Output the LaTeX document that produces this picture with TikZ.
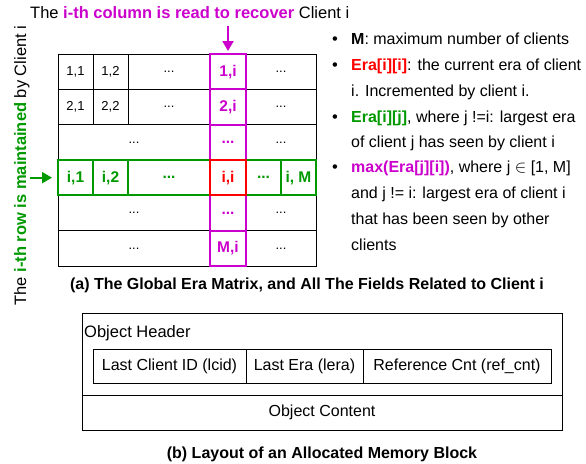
\documentclass[tikz,border=0pt]{standalone}
\usepackage{fontspec}
\setmainfont{Liberation Sans}
\usetikzlibrary{arrows.meta}
\definecolor{mag}{RGB}{204,0,204}
\definecolor{grn}{RGB}{0,153,0}
\definecolor{rd}{RGB}{255,0,0}
\begin{document}
\begin{tikzpicture}[x=1pt,y=-1pt,
  txt/.style={inner sep=0pt, font=\fontsize{16.5}{19}\selectfont},
  legend/.style={inner sep=0pt, anchor=base west, font=\fontsize{16}{19}\selectfont},
  cell/.style={draw=black, line width=0.9pt, minimum height=35.33pt, inner sep=0pt,
    font=\fontsize{13}{15}\selectfont},
  colcell/.style={draw=mag, line width=2pt, text=mag, minimum width=36pt,
    minimum height=35.33pt, inner sep=0pt, font=\fontsize{15.5}{18}\selectfont\bfseries},
  rowcell/.style={draw=grn, line width=2pt, text=grn, minimum height=35.33pt,
    inner sep=0pt, font=\fontsize{15.5}{18}\selectfont\bfseries},
  selfcell/.style={draw=rd, line width=2pt, text=rd, minimum width=36pt,
    minimum height=35.33pt, inner sep=0pt, font=\fontsize{15.5}{18}\selectfont\bfseries},
  ptr/.style={line width=2pt, -{Triangle[width=11pt,length=10pt]}},
  box/.style={draw=black, line width=0.9pt, inner sep=0pt, font=\fontsize{16}{19}\selectfont},
  caption/.style={inner sep=0pt, font=\fontsize{16}{19}\selectfont\bfseries},
]
\useasboundingbox (0,0) rectangle (586,463);

% ---- title and side label ----
\node[txt, anchor=base west] (title) at (30,18)
  {The \textcolor{mag}{\bfseries i-th column is read to recover} Client i};
\node[txt, rotate=90, anchor=base] (side) at (26,165.5)
  {The \textcolor{grn}{\bfseries i-th row is maintained} by Client i};

% ---- era matrix: plain cells ----
\node[cell, minimum width=35pt] (a11) at (75.5,71.67) {1,1};
\node[cell, minimum width=35pt] (a12) at (110.5,71.67) {1,2};
\node[cell, minimum width=82pt] (a1d) at (169,71.67) {...};
\node[cell, minimum width=70pt] (a1e) at (281,71.67) {...};

\node[cell, minimum width=35pt] (a21) at (75.5,107) {2,1};
\node[cell, minimum width=35pt] (a22) at (110.5,107) {2,2};
\node[cell, minimum width=82pt] (a2d) at (169,107) {...};
\node[cell, minimum width=70pt] (a2e) at (281,107) {...};

\node[cell, minimum width=152pt] (a3d) at (134,142.33) {...};
\node[cell, minimum width=70pt] (a3e) at (281,142.33) {...};

\node[cell, minimum width=152pt] (a5d) at (134,213) {...};
\node[cell, minimum width=70pt] (a5e) at (281,213) {...};

\node[cell, minimum width=152pt] (a6d) at (134,248.33) {...};
\node[cell, minimum width=70pt] (a6e) at (281,248.33) {...};

% ---- column i (magenta) ----
\node[colcell] (c1) at (228,71.67) {1,i};
\node[colcell] (c2) at (228,107) {2,i};
\node[colcell] (c3) at (228,142.33) {...};
\node[colcell] (c5) at (228,213) {...};
\node[colcell] (c6) at (228,248.33) {M,i};

% ---- row i (green) ----
\node[rowcell, minimum width=35pt] (ri1) at (75.5,177.67) {i,1};
\node[rowcell, minimum width=35pt] (ri2) at (110.5,177.67) {i,2};
\node[rowcell, minimum width=82pt] (rid) at (169,177.67) {...};
\node[rowcell, minimum width=35pt] (rie) at (263.5,177.67) {...};
\node[rowcell, minimum width=35pt] (riM) at (298.5,177.67) {i, M};
\node[selfcell] (rii) at (228,177.67) {i,i};

% ---- pointers ----
\coordinate (colptr) at (228,26);
\coordinate (rowptr) at (30,177.67);
\draw[ptr, mag, shorten >=2pt] (colptr) -- (c1.north);
\draw[ptr, grn, shorten >=5pt] (rowptr) -- (ri1.west);

% ---- legend ----
\foreach \y/\n in {44/1,70/2,122/3,172/4}
  \node[txt, anchor=base] (dot\n) at (335,\y) {•};
\node[legend] (l1) at (351,44) {\textbf{M}: maximum number of clients};
\node[legend] (l2) at (351,70) {\textcolor{rd}{\bfseries Era[i][i]}: the current era of client};
\node[legend] (l3) at (351,96) {i. Incremented by client i.};
\node[legend] (l4) at (351,122) {\textcolor{grn}{\bfseries Era[i][j]}, where j !=i: largest era};
\node[legend] (l5) at (351,147) {of client j has seen by client i};
\node[legend] (l6) at (351,172) {\textcolor{mag}{\bfseries max(Era[j][i])}, where j $\in$ [1, M]};
\node[legend] (l7) at (351,198) {and j != i: largest era of client i};
\node[legend] (l8) at (351,224) {that has been seen by other};
\node[legend] (l9) at (351,250) {clients};

\node[caption, anchor=base] (capa) at (307,289)
  {(a) The Global Era Matrix, and All The Fields Related to Client i};

% ---- memory block layout ----
\node[box, minimum width=480pt, minimum height=82pt] (hdr) at (322,354) {};
\node[box, minimum width=480pt, minimum height=35pt] (content) at (322,412.5) {Object Content};
\node[txt, anchor=base west] (hdrlabel) at (84,337) {Object Header};
\node[box, minimum width=153pt, minimum height=34pt] (lcid) at (169.5,366.5) {Last Client ID (lcid)};
\node[box, minimum width=117pt, minimum height=34pt] (lera) at (304.5,366.5) {Last Era (lera)};
\node[box, minimum width=188pt, minimum height=34pt] (refcnt) at (457,366.5) {Reference Cnt (ref\_cnt)};

\node[caption, anchor=base] (capb) at (322,458) {(b) Layout of an Allocated Memory Block};
\end{tikzpicture}
\end{document}
